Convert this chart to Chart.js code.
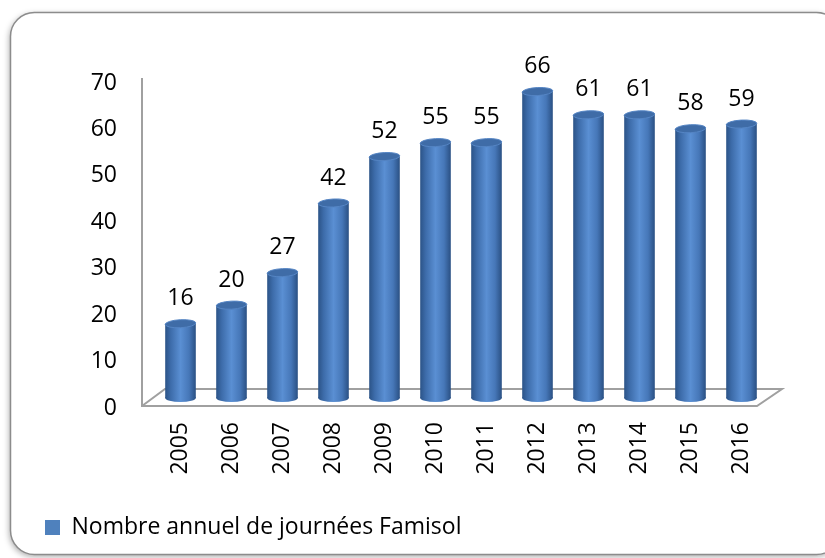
<!DOCTYPE html>
<html>
<head>
<meta charset="utf-8">
<script src="https://cdn.jsdelivr.net/npm/chart.js@4.4.1/dist/chart.umd.min.js"></script>
<style>
  html, body { margin: 0; padding: 0; background: #fff; }
  #wrap { width: 825px; height: 558px; }
</style>
</head>
<body>
<div id="wrap"><canvas id="myChart" width="825" height="558"></canvas></div>
<script>
const years = ["2005", "2006", "2007", "2008", "2009", "2010", "2011", "2012", "2013", "2014", "2015", "2016"];
const journees = [16, 20, 27, 42, 52, 55, 55, 66, 61, 61, 58, 59];
const yTicks = [0, 10, 20, 30, 40, 50, 60, 70];
const seriesName = "Nombre annuel de journées Famisol";

const FONT = "'Open Sans', 'DejaVu Sans', sans-serif";
const ctx = document.getElementById("myChart").getContext("2d");

function barGradient(c, x, w) {
  const g = c.createLinearGradient(x - w / 2, 0, x + w / 2, 0);
  g.addColorStop(0, "#2b5387");
  g.addColorStop(0.18, "#3d6caa");
  g.addColorStop(0.5, "#5a8fd3");
  g.addColorStop(0.78, "#4677b8");
  g.addColorStop(1, "#2a5083");
  return g;
}

// frame, floor and cylinder caps
const cylinders = {
  id: "cylinders",
  beforeDraw(chart) {
    const c = chart.ctx;
    c.save();
    c.fillStyle = "#fff";
    c.fillRect(0, 0, chart.width, chart.height);
    c.shadowColor = "rgba(0,0,0,0.35)";
    c.shadowBlur = 6;
    c.shadowOffsetX = -1;
    c.shadowOffsetY = 2;
    c.beginPath();
    c.roundRect(10.5, 12.5, 830, 542, 24);
    c.fillStyle = "#fff";
    c.fill();
    c.shadowColor = "transparent";
    c.strokeStyle = "#8c8c8c";
    c.lineWidth = 1.5;
    c.stroke();
    c.restore();
  },
  beforeDatasetsDraw(chart) {
    const c = chart.ctx;
    const y = chart.scales.y;
    const a = chart.chartArea;
    const y0 = y.getPixelForValue(0) + 8;
    const yTop = y.getPixelForValue(70) + 5;
    c.save();
    c.strokeStyle = "#a0a0a0";
    c.lineWidth = 2;
    c.beginPath();
    c.moveTo(a.left - 13, yTop);
    c.lineTo(a.left - 13, y0);
    c.lineTo(a.right - 10, y0);
    c.lineTo(a.right + 15, y0 - 17);
    c.lineTo(a.left + 10, y0 - 17);
    c.lineTo(a.left - 13, y0);
    c.stroke();
    c.restore();
  },
  afterDatasetsDraw(chart) {
    const c = chart.ctx;
    const meta = chart.getDatasetMeta(0);
    c.save();
    meta.data.forEach((bar, i) => {
      const rx = bar.width / 2;
      const ry = 4;
      c.fillStyle = barGradient(c, bar.x, bar.width);
      c.beginPath();
      c.ellipse(bar.x, bar.base, rx, ry, 0, 0, Math.PI * 2);
      c.fill();
      c.fillStyle = "#3f6ca7";
      c.strokeStyle = "#5585c4";
      c.lineWidth = 1;
      c.beginPath();
      c.ellipse(bar.x, bar.y, rx, ry, -0.05, 0, Math.PI * 2);
      c.fill();
      c.stroke();
      c.fillStyle = "#000";
      c.font = "23px " + FONT;
      c.textAlign = "center";
      c.textBaseline = "middle";
      c.fillText(String(journees[i]), bar.x, bar.y - 25);
    });
    c.restore();
  },
};

const chart = new Chart(ctx, {
  type: "bar",
  data: {
    labels: years,
    datasets: [
      {
        label: seriesName,
        data: journees,
        backgroundColor: (context) => {
          const ch = context.chart;
          if (!ch.chartArea || context.dataIndex === undefined) return "#4f81bd";
          const x = ch.scales.x.getPixelForValue(context.dataIndex);
          const w = (ch.scales.x.width / years.length) * 0.6;
          return barGradient(ch.ctx, x, w);
        },
        borderWidth: 0,
        categoryPercentage: 1,
        barPercentage: 0.6,
      },
    ],
  },
  options: {
    responsive: false,
    animation: false,
    layout: {
      padding: { left: 35, right: 58, top: 73, bottom: 9 },
    },
    scales: {
      x: {
        grid: { display: false, drawTicks: false },
        border: { display: false },
        ticks: {
          minRotation: 90,
          maxRotation: 90,
          padding: 24,
          color: "#000",
          font: { size: 23, family: FONT },
        },
        afterFit: (scale) => { scale.height = 108; },
      },
      y: {
        min: 0,
        max: 70,
        afterBuildTicks: (scale) => { scale.ticks = yTicks.map((v) => ({ value: v })); },
        grid: { display: false, drawTicks: false },
        border: { display: false },
        ticks: {
          padding: 38,
          labelOffset: 10,
          color: "#000",
          font: { size: 23, family: FONT },
        },
        afterFit: (scale) => { scale.width = 120; },
      },
    },
    plugins: {
      legend: {
        position: "bottom",
        align: "start",
        labels: {
          boxWidth: 15,
          boxHeight: 15,
          padding: 10,
          color: "#000",
          font: { size: 23, family: FONT },
          generateLabels: (ch) => [{
            text: seriesName,
            fillStyle: "#4f81bd",
            strokeStyle: "#4f81bd",
            lineWidth: 0,
            datasetIndex: 0,
          }],
        },
      },
      tooltip: { enabled: false },
    },
  },
  plugins: [cylinders],
});
</script>
</body>
</html>
